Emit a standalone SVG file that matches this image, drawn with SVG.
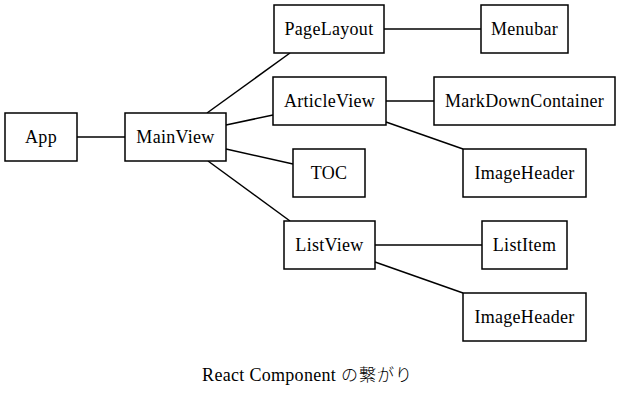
<svg xmlns="http://www.w3.org/2000/svg" width="620" height="409" viewBox="0 0 620 409">
<style>
.n rect{fill:#fff;stroke:#000;stroke-width:1.5}
text{font-family:'Liberation Serif','Times New Roman',serif;font-size:18px;letter-spacing:0.3px;fill:#000;text-anchor:middle}
.cjk{font-family:'Noto Sans CJK JP',sans-serif;font-size:17px;font-weight:300;letter-spacing:1px}
#edges line{stroke:#000;stroke-width:1.5}
</style>
<rect width="620" height="409" fill="#fff"/>
<g id="edges">
<line x1="77" y1="137" x2="125" y2="137"/>
<line x1="207" y1="113" x2="290" y2="53"/>
<line x1="226" y1="125" x2="273" y2="115"/>
<line x1="226" y1="149" x2="293" y2="164"/>
<line x1="208" y1="161" x2="290" y2="221"/>
<line x1="384" y1="29" x2="481" y2="29"/>
<line x1="386" y1="101" x2="434" y2="101"/>
<line x1="386" y1="122" x2="463" y2="149"/>
<line x1="375" y1="245" x2="482" y2="245"/>
<line x1="375" y1="262" x2="463" y2="293"/>
</g>
<g id="App" class="n"><rect x="5" y="113" width="72" height="48"/><text x="41" y="143">App</text></g>
<g id="MainView" class="n"><rect x="125" y="113" width="101" height="48"/><text x="175.5" y="143">MainView</text></g>
<g id="PageLayout" class="n"><rect x="274" y="5" width="110" height="48"/><text x="329" y="35">PageLayout</text></g>
<g id="ArticleView" class="n"><rect x="273" y="77" width="113" height="48"/><text x="329.5" y="107">ArticleView</text></g>
<g id="TOC" class="n"><rect x="293" y="149" width="72" height="48"/><text x="329" y="179">TOC</text></g>
<g id="ListView" class="n"><rect x="284" y="221" width="91" height="48"/><text x="329.5" y="251">ListView</text></g>
<g id="Menubar" class="n"><rect x="481" y="5" width="87" height="48"/><text x="524.5" y="35">Menubar</text></g>
<g id="MarkDownContainer" class="n"><rect x="434" y="77" width="181" height="48"/><text x="524.5" y="107">MarkDownContainer</text></g>
<g id="ImageHeader1" class="n"><rect x="463" y="149" width="123" height="48"/><text x="524.5" y="179">ImageHeader</text></g>
<g id="ListItem" class="n"><rect x="482" y="221" width="85" height="48"/><text x="524.5" y="251">ListItem</text></g>
<g id="ImageHeader2" class="n"><rect x="463" y="293" width="123" height="48"/><text x="524.5" y="323">ImageHeader</text></g>
<text x="307.5" y="381">React Component <tspan class="cjk">の繋がり</tspan></text>
</svg>
